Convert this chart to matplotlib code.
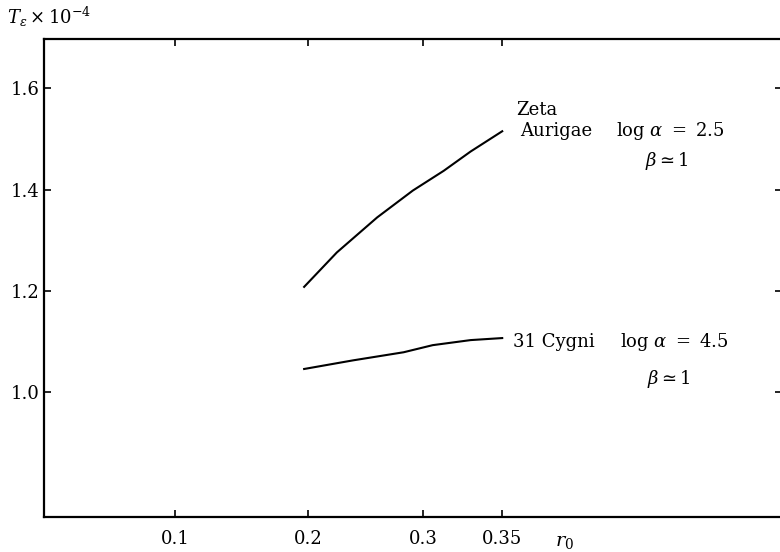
import numpy as np
import matplotlib
matplotlib.use("Agg")
import matplotlib.pyplot as plt

plt.rcParams['font.family'] = ['DejaVu Serif']
plt.rcParams['mathtext.fontset'] = 'dejavuserif'

# T_eps (units of 1e4 K) against r0 for the two systems
r0_zeta = [0.197, 0.225, 0.260, 0.291, 0.313, 0.330, 0.350]
t_zeta = [1.208, 1.276, 1.345, 1.398, 1.437, 1.475, 1.515]
r0_cyg = [0.197, 0.239, 0.283, 0.306, 0.330, 0.350]
t_cyg = [1.046, 1.063, 1.079, 1.093, 1.103, 1.107]

xticks = [0.1, 0.2, 0.3, 0.35]
xlabels = ['0.1', '0.2', '0.3', '0.35']
yticks = [1.0, 1.2, 1.4, 1.6]

# the r0 axis is not evenly spaced: piecewise linear scale through the ticks
knot_r = [-1.0, 0.0, 0.1, 0.2, 0.3, 0.35, 2.0]
knot_u = [-1310, 0, 131, 264, 379, 458, 3065]

def fwd(x):
    return np.interp(x, knot_r, knot_u)

def inv(u):
    return np.interp(u, knot_u, knot_r)

fig = plt.figure(figsize=(7.8, 5.52), dpi=100)
ax = fig.add_axes([44/780, 35/552, 738/780, 478/552])
ax.set_xscale('function', functions=(fwd, inv))
ax.set_xlim(0, 0.527)
ax.set_ylim(0.754, 1.697)

ax.plot(r0_zeta, t_zeta, color='black', lw=1.5)
ax.plot(r0_cyg, t_cyg, color='black', lw=1.5)

ax.set_xticks(xticks)
ax.set_xticklabels(xlabels)
ax.set_yticks(yticks)
ax.set_yticklabels(['%.1f' % v for v in yticks])
ax.minorticks_off()
ax.tick_params(axis='both', direction='in', length=5, width=1.2,
               labelsize=13, top=True, right=True)
ax.tick_params(axis='x', pad=9)
ax.tick_params(axis='y', pad=3)
for sp in ax.spines.values():
    sp.set_linewidth(1.6)

kw = dict(fontsize=13, ha='left', va='baseline')
ax.text(0.359, 1.548, 'Zeta', **kw)
ax.text(0.3614, 1.505, 'Aurigae', **kw)
ax.text(0.4222, 1.505, r'$\log\,\alpha\ =\ 2.5$', **kw)
ax.text(0.4405, 1.446, r'$\beta \simeq 1$', **kw)
ax.text(0.357, 1.089, '31 Cygni', **kw)
ax.text(0.4247, 1.089, r'$\log\,\alpha\ =\ 4.5$', **kw)
ax.text(0.4418, 1.016, r'$\beta \simeq 1$', **kw)

fig.text(7/780, 1 - 24/552, r'$T_\varepsilon\times10^{-4}$', fontsize=13,
         ha='left', va='baseline')
fig.text(565/780, 1 - 546/552, r'$r_0$', fontsize=14, ha='center',
         va='baseline')

fig.savefig('out.png', dpi=100)
